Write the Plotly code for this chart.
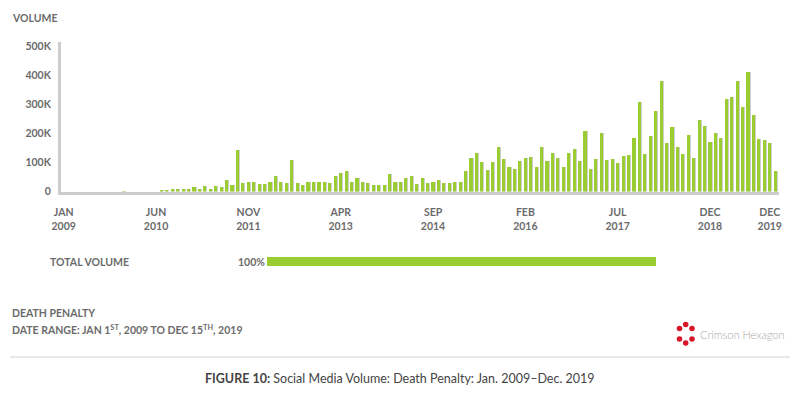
import plotly.graph_objects as go
import pandas as pd

# ---------------- data ----------------
months = pd.date_range("2009-01-01", "2019-12-01", freq="MS").strftime("%Y-%m").tolist()
volume_k = [
    0, 0, 0, 0, 0, 0, 0, 0, 0, 0, 0, 1, 0, 0, 0, 0, 0, 0,          # 2009 - Jun 2010
    3.5, 3.5, 7, 7, 7, 7, 14, 8, 20, 8, 20, 14, 38, 21, 142, 28,     # m18-33
    32, 32, 25, 25, 34, 52, 32, 29, 107, 31, 24, 34, 34, 34, 34, 31, # m34-49
    52, 63, 72, 34, 48, 34, 28, 24, 24, 24, 59, 34, 32, 45, 55, 26,  # m50-65
    45, 28, 32, 38, 31, 31, 34, 34, 71, 117, 134, 100, 74, 100, 155, 113,  # m66-81
    86, 78, 106, 114, 118, 86, 152, 106, 131, 116, 86, 134, 145, 105, 209, 78,  # m82-97
    113, 203, 109, 111, 99, 121, 126, 186, 310, 128, 192, 278, 382, 166, 221, 152,  # m98-113
    128, 194, 115, 247, 224, 169, 203, 186, 317, 324, 379, 291, 411, 263, 182, 176,  # m114-129
    168, 70,                                                          # m130-131
]
volume = [v * 1000 for v in volume_k]

tick_months = ["2009-01", "2010-06", "2011-11", "2013-04", "2014-09", "2016-02", "2017-07", "2018-12", "2019-11"]
tick_labels = ["JAN<br>2009", "JUN<br>2010", "NOV<br>2011", "APR<br>2013", "SEP<br>2014",
               "FEB<br>2016", "JUL<br>2017", "DEC<br>2018", "DEC<br>2019"]
y_ticks = [0, 100000, 200000, 300000, 400000, 500000]
y_tick_labels = ["0", "100K", "200K", "300K", "400K", "500K"]

total_label = "TOTAL VOLUME"
total_share = [100]
topic = "DEATH PENALTY"
date_range = "DATE RANGE: JAN 1<sup>ST</sup>, 2009 TO DEC 15<sup>TH</sup>, 2019"
caption = "<b>FIGURE 10:</b> Social Media Volume: Death Penalty: Jan. 2009\u2013Dec. 2019"

# ---------------- styling ----------------
GREEN = "#9acd32"
SHADOW = "#cfcfcf"
GRAY = "#6b6b6b"
AXIS = "#cccccc"
FONT = "Lato"

idx = list(range(len(months)))
tick_idx = [months.index(m) for m in tick_months]

fig = go.Figure()
# shadow
fig.add_trace(go.Bar(x=idx, y=volume, marker=dict(color=SHADOW, line=dict(width=0)),
                     width=0.58, offset=-0.12, hoverinfo="skip", showlegend=False))
fig.add_trace(go.Bar(x=idx, y=volume, marker=dict(color=GREEN, line=dict(width=0)),
                     width=0.58, offset=-0.3, showlegend=False,
                     customdata=months, hovertemplate="%{customdata}: %{y}<extra></extra>"))
# total volume bar
fig.add_trace(go.Bar(x=total_share, y=[0], orientation="h", xaxis="x2", yaxis="y2",
                     width=1, marker=dict(color=GREEN, line=dict(width=0)), showlegend=False,
                     hoverinfo="skip"))

H_TOP = 42
H_BOT = 270
plot_h = H_BOT - H_TOP
main_bottom = (H_BOT - 191.5) / plot_h

fig.update_layout(
    width=802, height=393,
    margin=dict(l=61, r=23, t=H_TOP, b=393 - H_BOT),
    paper_bgcolor="white", plot_bgcolor="white",
    barmode="overlay", bargap=0,
    font=dict(family=FONT, color=GRAY),
    xaxis=dict(range=[-0.5, 131.7], showgrid=False, zeroline=False,
               showline=True, linecolor=AXIS, linewidth=3,
               tickvals=tick_idx, ticktext=tick_labels, ticks="",
               tickfont=dict(size=10.5, color=GRAY, family=FONT, weight="bold"),
               ticklabelstandoff=9, fixedrange=True),
    yaxis=dict(domain=[main_bottom, 1], range=[0, 515000], showgrid=False, zeroline=False,
               showline=True, linecolor=AXIS, linewidth=3,
               tickvals=y_ticks, ticktext=y_tick_labels, ticks="",
               tickfont=dict(size=10.5, color=GRAY, family=FONT, weight="bold"),
               ticklabelstandoff=5, fixedrange=True),
    xaxis2=dict(domain=[(267 - 61) / 718, (656 - 61) / 718], range=[0, 100], anchor="y2",
                visible=False),
    yaxis2=dict(domain=[(H_BOT - 266) / plot_h, (H_BOT - 257) / plot_h], range=[-0.5, 0.5],
                anchor="x2", visible=False),
)

ann = [
    dict(text="VOLUME", x=10, y=18),
    dict(text=total_label, x=48, y=262),
    dict(text=f"{total_share[0]}%", x=236, y=262),
    dict(text=topic, x=10, y=313),
    dict(text=date_range, x=10, y=329),
]
for a in ann:
    fig.add_annotation(text=a["text"], xref="paper", yref="paper",
                       x=(a["x"] - 61) / 718, y=(H_BOT - a["y"]) / plot_h,
                       xanchor="left", yanchor="middle", showarrow=False,
                       font=dict(size=10.5, color=GRAY, family=FONT, weight="bold"))

fig.add_annotation(text=caption, xref="paper", yref="paper",
                   x=(400 - 61) / 718, y=(H_BOT - 378) / plot_h,
                   xanchor="center", yanchor="middle", showarrow=False,
                   font=dict(size=12.5, color="#444444", family=FONT))

# logo text
fig.add_annotation(text="Crimson Hexagon", xref="paper", yref="paper",
                   x=(698 - 61) / 718, y=(H_BOT - 334) / plot_h,
                   xanchor="left", yanchor="middle", showarrow=False,
                   font=dict(size=11, color="#a8a8a8", family=FONT, weight=300))

shapes = [dict(type="line", xref="paper", yref="paper",
               x0=(10 - 61) / 718, x1=(790 - 61) / 718,
               y0=(H_BOT - 357) / plot_h, y1=(H_BOT - 357) / plot_h,
               line=dict(color="#d0d0d0", width=1))]
# logo dots (hexagon ring)
logo_pts = [(685.7, 324.5), (679.5, 328.5), (692, 328.5), (679.5, 339), (692, 339), (685.7, 343)]
for (px, py) in logo_pts:
    shapes.append(dict(type="circle", xref="paper", yref="paper",
                       x0=(px - 2.8 - 61) / 718, x1=(px + 2.8 - 61) / 718,
                       y0=(H_BOT - py - 2.8) / plot_h, y1=(H_BOT - py + 2.8) / plot_h,
                       fillcolor="#d7182a", line=dict(width=0)))
fig.update_layout(shapes=shapes)

fig.write_html("out.html", config={"displayModeBar": False},
               post_script="document.body.style.margin='0';document.body.style.padding='0';")
